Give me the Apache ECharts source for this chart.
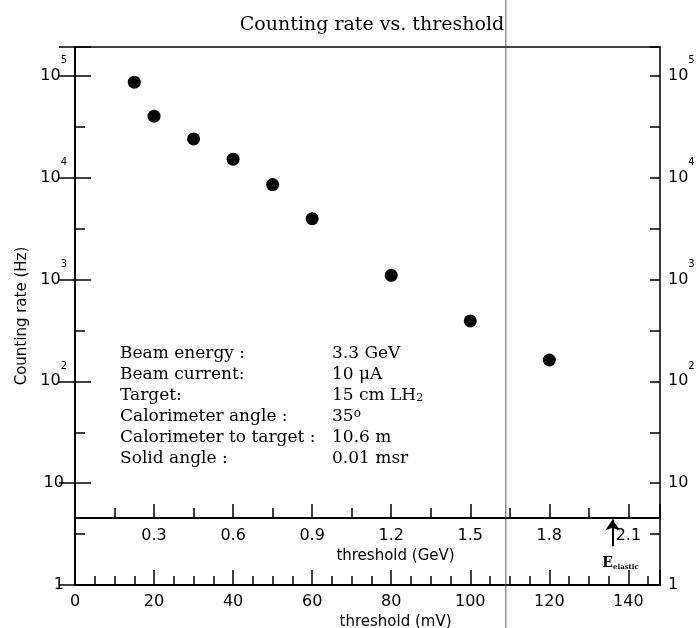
<!DOCTYPE html>
<html><head><meta charset="utf-8">
<script src="https://cdn.jsdelivr.net/npm/echarts@6/dist/echarts.min.js"></script>
<style>html,body{margin:0;padding:0;background:#fff}#c{width:698px;height:628px}</style>
</head><body><div id="c"></div>
<script>
// ---- data ----
const thresholdMV = [15, 20, 30, 40, 50, 60, 80, 100, 120];
const countingRate = [86700, 40200, 24000, 15200, 8550, 3960, 1100, 392, 162];
const mvRange = [0, 148];
const mvPerGeV = 1 / 0.015;
const rateRange = [1, 192000];
const infoLabels = ['Beam energy :', 'Beam current:', 'Target:', 'Calorimeter angle :', 'Calorimeter to target :', 'Solid angle :'];
const infoValues = ['3.3 GeV', '10 \u03bcA', '15 cm LH{sub|2}', '35{sup|o}', '10.6 m', '0.01 msr'];
const eElasticGeV = 2.04;
const arrowSpan = [2.4, 4.4];
const guideLineMV = 109;

const SANS = 'DejaVu Sans';
const SERIF = 'DejaVu Serif';
const BLACK = '#000';

function powLabel(v) {
  const l = Math.log10(v), e = Math.round(l);
  if (Math.abs(l - e) > 1e-6) return '';
  if (e === 0) return '{b|1}{sup| }';
  if (e === 1) return '{b|10}{sup| }';
  return '{b|10}{sup|' + e + '}';
}
const richY = {
  b: {fontSize: 16, fontFamily: SANS, color: BLACK, lineHeight: 16, verticalAlign: 'bottom'},
  sup: {fontSize: 10, fontFamily: SANS, color: BLACK, verticalAlign: 'top', padding: [0, 0, 18, 0]}
};
const logMax = Math.log10(rateRange[1]);

function logAxis(pos) {
  return {
    type: 'log', logBase: 10, position: pos, min: rateRange[0], max: rateRange[1],
    axisLine: {show: true, lineStyle: {color: BLACK, width: 2}},
    axisTick: {show: true, inside: true, length: 16, lineStyle: {color: BLACK, width: 1.5}},
    minorTick: {show: false},
    splitLine: {show: false},
    axisLabel: {show: true, formatter: powLabel, rich: richY, padding: [0, 0, 12, 0], margin: 8, color: BLACK}
  };
}
function helperAxis(pos) {
  return {
    type: 'value', position: pos, min: 0, max: logMax, interval: 0.5,
    axisLine: {show: false}, splitLine: {show: false}, axisLabel: {show: false},
    axisTick: {show: true, inside: true, length: 10, lineStyle: {color: BLACK, width: 1.5}}
  };
}

const yLeft = logAxis('left');
yLeft.name = 'Counting rate (Hz)';
yLeft.nameLocation = 'middle';
yLeft.nameGap = 45;
yLeft.nameTextStyle = {fontFamily: SANS, fontSize: 15, color: BLACK};

const infoGraphics = [];
infoLabels.forEach((t, i) => {
  const y = 345 + i * 21;
  infoGraphics.push({type: 'text', id: 'il' + i, x: 120, y: y,
    style: {text: t, font: '17px "' + SERIF + '"', fill: BLACK}});
  infoGraphics.push({type: 'text', id: 'iv' + i, x: 332, y: y,
    style: {text: infoValues[i], font: '17px "' + SERIF + '"', fill: BLACK,
      rich: {
        sub: {fontSize: 11, fontFamily: SERIF, verticalAlign: 'bottom', padding: [4, 0, 0, 0]},
        sup: {fontSize: 12, fontFamily: SERIF, verticalAlign: 'top', padding: [0, 0, 6, 0]}
      }}});
});

const chart = echarts.init(document.getElementById('c'));
chart.setOption({
  animation: false,
  backgroundColor: '#fff',
  title: {text: 'Counting rate vs. threshold', left: 367, top: 11, textAlign: 'center',
    textStyle: {fontFamily: SERIF, fontSize: 19, fontWeight: 'normal', color: BLACK}},
  grid: {left: 75, right: 38, top: 47, bottom: 43, show: true, borderColor: BLACK, borderWidth: 1.5,
    containLabel: false, outerBoundsMode: 'none'},
  xAxis: [
    {type: 'value', position: 'bottom', min: mvRange[0], max: mvRange[1], interval: 20,
      name: 'threshold (mV)', nameLocation: 'middle', nameGap: 23,
      nameTextStyle: {fontFamily: SANS, fontSize: 15, color: BLACK, padding: [0, 0, 0, 56]},
      axisLine: {show: true, lineStyle: {color: BLACK, width: 2}},
      axisTick: {show: true, inside: true, length: 15, lineStyle: {color: BLACK, width: 1.5}},
      minorTick: {show: true, splitNumber: 4, length: 9, lineStyle: {color: BLACK, width: 1.5}},
      splitLine: {show: false},
      axisLabel: {margin: 9, fontFamily: SANS, fontSize: 16, color: BLACK,
        formatter: v => (v % 20 === 0 ? String(v) : '')}},
    {type: 'value', position: 'bottom', offset: -67, min: mvRange[0] / mvPerGeV, max: mvRange[1] / mvPerGeV, interval: 0.3,
      name: 'threshold (GeV)', nameLocation: 'middle', nameGap: 25,
      nameTextStyle: {fontFamily: SANS, fontSize: 15, color: BLACK, padding: [0, 0, 0, 56]},
      axisLine: {show: true, lineStyle: {color: BLACK, width: 2}},
      axisTick: {show: true, inside: true, length: 14, lineStyle: {color: BLACK, width: 1.5}},
      minorTick: {show: true, splitNumber: 2, length: 10, lineStyle: {color: BLACK, width: 1.5}},
      splitLine: {show: false},
      axisLabel: {margin: 10, fontFamily: SANS, fontSize: 16, color: BLACK,
        formatter: v => (v > 0.01 && v < 2.15 ? v.toFixed(1) : '')}}
  ],
  yAxis: [yLeft, logAxis('right'), helperAxis('left'), helperAxis('right')],
  series: [
    {type: 'scatter', xAxisIndex: 0, yAxisIndex: 0, symbol: 'circle', symbolSize: 13,
      itemStyle: {color: BLACK, opacity: 1}, data: thresholdMV.map((x, i) => [x, countingRate[i]])},
    {type: 'scatter', xAxisIndex: 1, yAxisIndex: 0, data: [], silent: true,
      markLine: {silent: true, symbol: ['none', 'arrow'], symbolSize: 11, animation: false,
        lineStyle: {color: BLACK, width: 2, type: 'solid'},
        label: {show: true, position: 'start', distance: 10, padding: [0, 0, 0, 16],
          formatter: '{e|E}{s|elastic}',
          rich: {e: {fontFamily: SERIF, fontWeight: 'bold', fontSize: 14, color: BLACK},
                 s: {fontFamily: SERIF, fontWeight: 'bold', fontSize: 7, color: BLACK, verticalAlign: 'bottom', padding: [6, 0, 0, 0]}}},
        data: [[{coord: [eElasticGeV, arrowSpan[0]]}, {coord: [eElasticGeV, arrowSpan[1]]}]]}}
  ],
  graphic: infoGraphics
});
const gx = chart.convertToPixel({xAxisIndex: 0}, guideLineMV);
chart.setOption({graphic: [{type: 'line', id: 'guide', shape: {x1: gx, y1: 0, x2: gx, y2: 628},
  style: {stroke: '#555', lineWidth: 1}, z: 100}]});
</script></body></html>
